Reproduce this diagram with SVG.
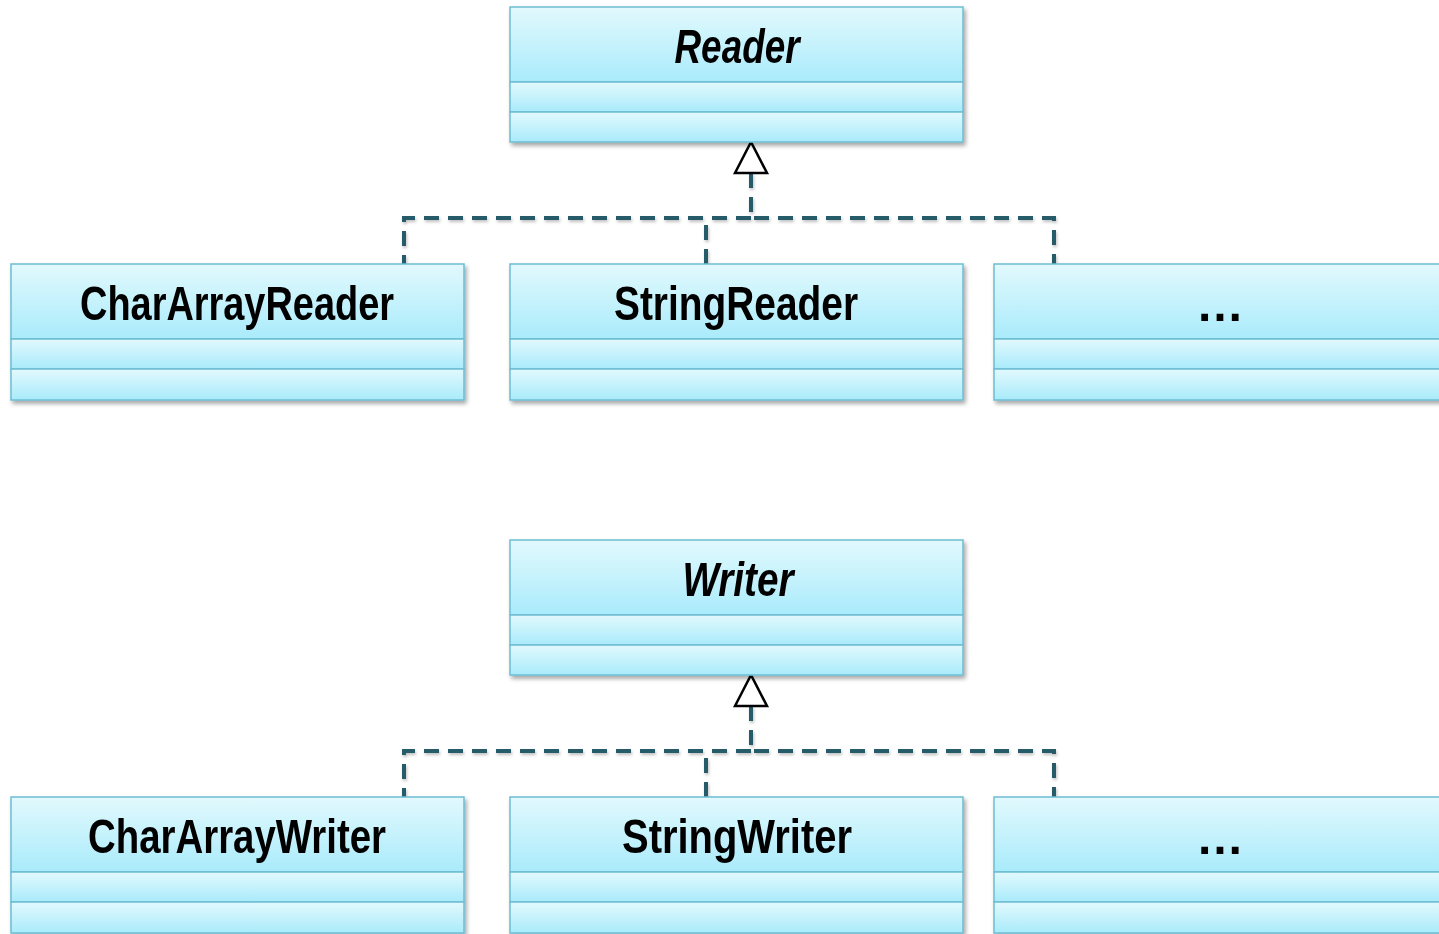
<svg xmlns="http://www.w3.org/2000/svg" width="1439" height="934" viewBox="0 0 1439 934">
<defs>
<linearGradient id="g" x1="0" y1="0" x2="0" y2="1">
<stop offset="0" stop-color="#e2f9fd"/>
<stop offset="1" stop-color="#a9ebfb"/>
</linearGradient>
<filter id="sh" x="-5%" y="-10%" width="110%" height="130%">
<feDropShadow dx="2" dy="3" stdDeviation="2" flood-color="#000" flood-opacity="0.35"/>
</filter>
<filter id="lsh" filterUnits="userSpaceOnUse" x="0" y="0" width="1439" height="934">
<feDropShadow dx="1" dy="2" stdDeviation="1.5" flood-color="#000" flood-opacity="0.25"/>
</filter>
</defs>
<style>
.c{fill:url(#g);stroke:#6dbdd2;stroke-width:1.5}
.box{filter:url(#sh)}
.t{font-family:"Liberation Sans",Arial,sans-serif;font-weight:bold;font-size:48px;fill:#000;text-anchor:middle}
.i{font-style:italic}
.d{fill:none;stroke:#285c6b;stroke-width:4;stroke-dasharray:15 9;filter:url(#lsh)}
.tri{fill:#fff;stroke:#000;stroke-width:2.5}
</style>

<g id="connectors">
<path class="d" d="M751 173 V218 H1054 V264"/>
<path class="d" d="M751 218 H404 V264"/>
<path class="d" d="M706 264 V218"/>
<path class="tri" d="M735 173 L751 142 L767 173 Z"/>
<path class="d" d="M751 706 V751 H1054 V797"/>
<path class="d" d="M751 751 H404 V797"/>
<path class="d" d="M706 797 V751"/>
<path class="tri" d="M735 706 L751 675 L767 706 Z"/>
</g>

<g id="Reader" class="box">
<rect class="c" x="510" y="7" width="453" height="75"/>
<rect class="c" x="510" y="82" width="453" height="30"/>
<rect class="c" x="510" y="112" width="453" height="30"/>
<text class="t i" x="737" y="63" textLength="125" lengthAdjust="spacingAndGlyphs">Reader</text>
</g>

<g id="CharArrayReader" class="box">
<rect class="c" x="11" y="264" width="453" height="75"/>
<rect class="c" x="11" y="339" width="453" height="30"/>
<rect class="c" x="11" y="369" width="453" height="31"/>
<text class="t" x="237" y="320" textLength="314" lengthAdjust="spacingAndGlyphs">CharArrayReader</text>
</g>

<g id="StringReader" class="box">
<rect class="c" x="510" y="264" width="453" height="75"/>
<rect class="c" x="510" y="339" width="453" height="30"/>
<rect class="c" x="510" y="369" width="453" height="31"/>
<text class="t" x="736" y="320" textLength="244" lengthAdjust="spacingAndGlyphs">StringReader</text>
</g>

<g id="MoreReaders" class="box">
<rect class="c" x="994" y="264" width="460" height="75"/>
<rect class="c" x="994" y="339" width="460" height="30"/>
<rect class="c" x="994" y="369" width="460" height="31"/>
<text class="t" x="1220" y="321" textLength="44" lengthAdjust="spacing">…</text>
</g>

<g id="Writer" class="box">
<rect class="c" x="510" y="540" width="453" height="75"/>
<rect class="c" x="510" y="615" width="453" height="30"/>
<rect class="c" x="510" y="645" width="453" height="30"/>
<text class="t i" x="738" y="596" textLength="111" lengthAdjust="spacingAndGlyphs">Writer</text>
</g>

<g id="CharArrayWriter" class="box">
<rect class="c" x="11" y="797" width="453" height="75"/>
<rect class="c" x="11" y="872" width="453" height="30"/>
<rect class="c" x="11" y="902" width="453" height="31"/>
<text class="t" x="237" y="853" textLength="298" lengthAdjust="spacingAndGlyphs">CharArrayWriter</text>
</g>

<g id="StringWriter" class="box">
<rect class="c" x="510" y="797" width="453" height="75"/>
<rect class="c" x="510" y="872" width="453" height="30"/>
<rect class="c" x="510" y="902" width="453" height="31"/>
<text class="t" x="737" y="853" textLength="230" lengthAdjust="spacingAndGlyphs">StringWriter</text>
</g>

<g id="MoreWriters" class="box">
<rect class="c" x="994" y="797" width="460" height="75"/>
<rect class="c" x="994" y="872" width="460" height="30"/>
<rect class="c" x="994" y="902" width="460" height="31"/>
<text class="t" x="1220" y="854" textLength="44" lengthAdjust="spacing">…</text>
</g>
</svg>
